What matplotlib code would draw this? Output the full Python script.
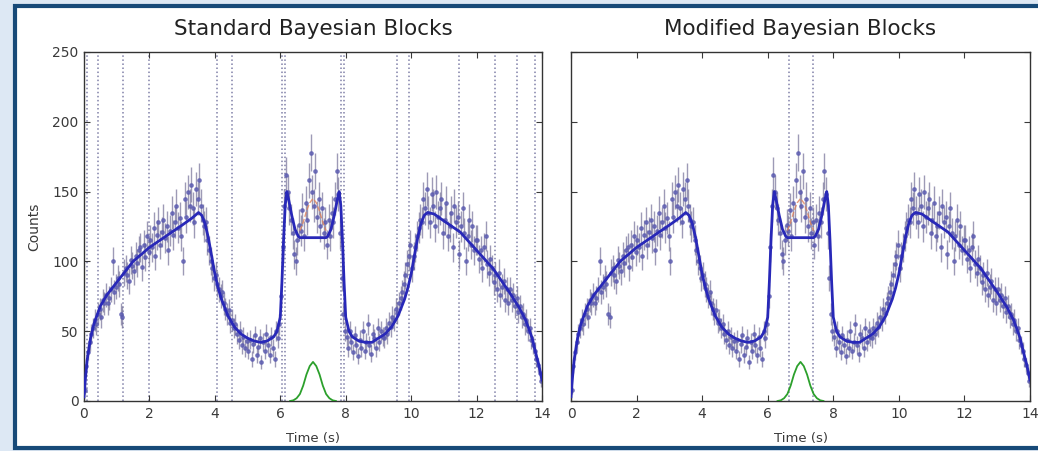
import numpy as np
import matplotlib
matplotlib.use("Agg")
import matplotlib.pyplot as plt
from matplotlib.patches import Rectangle

# ---------------- data ----------------
dt = 0.05
counts = [
    # 0-1
    8, 25, 35, 42, 48, 52, 58, 55, 62, 66, 60, 72, 70, 76, 70, 74, 80, 100, 78, 82,
    # 1-2
    88, 84, 62, 60, 92, 95, 90, 86, 101, 97, 93, 104, 99, 108, 110, 96, 112, 103, 118, 107,
    # 2-3
    115, 110, 124, 104, 119, 128, 112, 121, 130, 117, 125, 108, 122, 135, 119, 128, 140, 124, 131, 118,
    # 3-3.5
    100, 145, 132, 150, 140, 155, 138, 128, 152, 145,
    # 3.5-4
    158, 140, 130, 125, 128, 115, 108, 100, 95, 88,
    # 4-5
    90, 84, 80, 75, 78, 70, 66, 62, 65, 56, 58, 52, 55, 48, 44, 50, 40, 46, 38, 43,
    # 5-6
    36, 44, 30, 41, 47, 33, 39, 45, 28, 42, 36, 48, 40, 33, 46, 38, 30, 50, 45, 55,
    # 6-6.6
    75, 110, 140, 162, 150, 138, 130, 120, 105, 100, 115, 126,
    # 6.6-7.4
    122, 137, 118, 142, 130, 158, 178, 150, 140, 165, 132, 145, 125, 138, 120, 128,
    # 7.4-8
    112, 130, 118, 135, 128, 145, 165, 148, 120, 88, 62, 50,
    # 8-9
    46, 38, 50, 42, 35, 47, 40, 32, 44, 38, 50, 36, 42, 55, 40, 34, 48, 45, 38, 52,
    # 9-10
    42, 50, 46, 45, 52, 48, 56, 53, 60, 58, 66, 63, 70, 74, 78, 84, 90, 98, 104, 112,
    # 10-11
    95, 104, 110, 118, 124, 130, 128, 145, 138, 152, 135, 128, 148, 140, 125, 150, 132, 138, 145, 120,
    # 11-12
    130, 142, 118, 125, 135, 110, 140, 128, 132, 105, 125, 138, 120, 100, 118, 130, 112, 125, 108, 115,
    # 12-13
    115, 102, 108, 95, 110, 118, 98, 92, 102, 95, 85, 90, 80, 92, 76, 82, 86, 72, 80, 70,
    # 13-14
    80, 72, 76, 68, 74, 64, 68, 60, 62, 55, 58, 50, 52, 44, 40, 36, 30, 26, 20, 14,
]
times = dt / 2 + dt * np.arange(len(counts))

# model (block reconstruction)
model_t = [0, 0.05, 0.1, 0.2, 0.3, 0.5, 0.7, 1.0, 1.5, 2.0, 2.5, 3.0, 3.3,
           3.5, 3.6, 3.7, 3.8, 3.9, 4.0, 4.1, 4.2, 4.4, 4.6, 4.8, 5.0, 5.2, 5.4,
           5.6, 5.8, 5.9, 6.0, 6.05, 6.1, 6.15, 6.2, 6.25, 6.35, 6.45, 6.55, 6.6,
           7.4, 7.45, 7.55, 7.65, 7.75, 7.8, 7.85, 7.9, 7.95, 8.0, 8.1, 8.2, 8.4, 8.6,
           8.8, 9.0, 9.2, 9.4, 9.6, 9.8, 9.9, 10.0, 10.1, 10.2, 10.3, 10.4, 10.5,
           10.7, 11.0, 11.5, 12.0, 12.5, 13.0, 13.3, 13.5, 13.7, 13.8, 13.9, 14.0]
model_y = [3, 18, 30, 45, 55, 68, 76, 85, 100, 110, 118, 126, 131,
           135, 133, 127, 117, 104, 91, 81, 73, 61, 53, 48, 45, 43, 42,
           43, 46, 50, 60, 85, 115, 140, 150, 145, 133, 123, 118, 117,
           117, 118, 123, 133, 145, 150, 140, 115, 85, 60, 50, 46, 43, 42,
           42, 45, 48, 53, 61, 73, 81, 91, 104, 117, 127, 133, 135,
           134, 129, 121, 108, 95, 78, 67, 58, 45, 35, 26, 15]

# injected gaussian pulse
pulse_t = [6.3, 6.4, 6.5, 6.6, 6.7, 6.8, 6.9, 7.0, 7.1, 7.2, 7.3, 7.4, 7.5, 7.6, 7.7]
pulse_y = [0, 0.5, 2, 5, 11, 19, 25, 28, 25, 19, 11, 5, 2, 0.5, 0]

std_changepoints = [0.1, 0.43, 1.19, 1.99, 4.06, 4.52, 6.05, 6.15, 7.86, 7.96,
                    9.56, 9.92, 11.45, 12.57, 13.23, 13.79]
mod_changepoints = [6.65, 7.37]

titles = ["Standard Bayesian Blocks", "Modified Bayesian Blocks"]

# ---------------- derived ----------------
counts = np.array(counts, dtype=float)
errs = np.sqrt(counts)
pt = np.array(pulse_t)
py = np.array(pulse_y)
flat_mask = (pt >= 6.6) & (pt <= 7.4)
true_t = pt[flat_mask]
true_y = 117 + py[flat_mask]

# ---------------- figure ----------------
W, H = 1038, 451
fig = plt.figure(figsize=(W / 100, H / 100), dpi=100)
fig.patch.set_facecolor("#dde8f4")
frame = Rectangle((15 / W, 1 - 448 / H), (1060 - 15) / W, (448 - 6) / H,
                  transform=fig.transFigure, facecolor="white",
                  edgecolor="#174a78", linewidth=3.0, zorder=-10)
fig.patches.append(frame)

ax1 = fig.add_axes([84 / W, 1 - 401 / H, 458 / W, 349 / H])
ax2 = fig.add_axes([571 / W, 1 - 401 / H, 459 / W, 349 / H], sharey=ax1)

txt = "#3a3a3a"
for ax, title, cps in [(ax1, titles[0], std_changepoints), (ax2, titles[1], mod_changepoints)]:
    for c in cps:
        ax.axvline(c, color="#8080a8", ls=":", lw=1.1, zorder=1)
    ax.errorbar(times, counts, yerr=errs, fmt="o", ms=2.4, color="#5a5ab0",
                ecolor="#7c789e", elinewidth=1.0, alpha=0.75, zorder=2)
    ax.plot(true_t, true_y, color="#e0825a", ls="--", lw=1.0, alpha=0.8, zorder=3)
    ax.plot(model_t, model_y, color="#2828b8", lw=2.0, zorder=4)
    ax.plot(pt, py, color="#2ca02c", lw=1.3, zorder=4)
    ax.set_xlim(0, 14)
    ax.set_ylim(0, 250)
    ax.set_xticks([0, 2, 4, 6, 8, 10, 12, 14])
    ax.set_yticks([0, 50, 100, 150, 200, 250])
    ax.tick_params(direction="in", top=True, right=True, labelsize=10,
                   colors=txt, length=4, pad=4)
    for s in ax.spines.values():
        s.set_color("#333333")
        s.set_linewidth(1.0)
    ax.set_title(title, fontsize=15.5, color="#222222", pad=12)
    ax.set_xlabel("Time (s)", fontsize=9.5, color=txt, labelpad=8)

ax1.set_ylabel("Counts", fontsize=10, color=txt, labelpad=8)
ax2.tick_params(labelleft=False)

fig.savefig("out.png", dpi=100, facecolor=fig.get_facecolor())
